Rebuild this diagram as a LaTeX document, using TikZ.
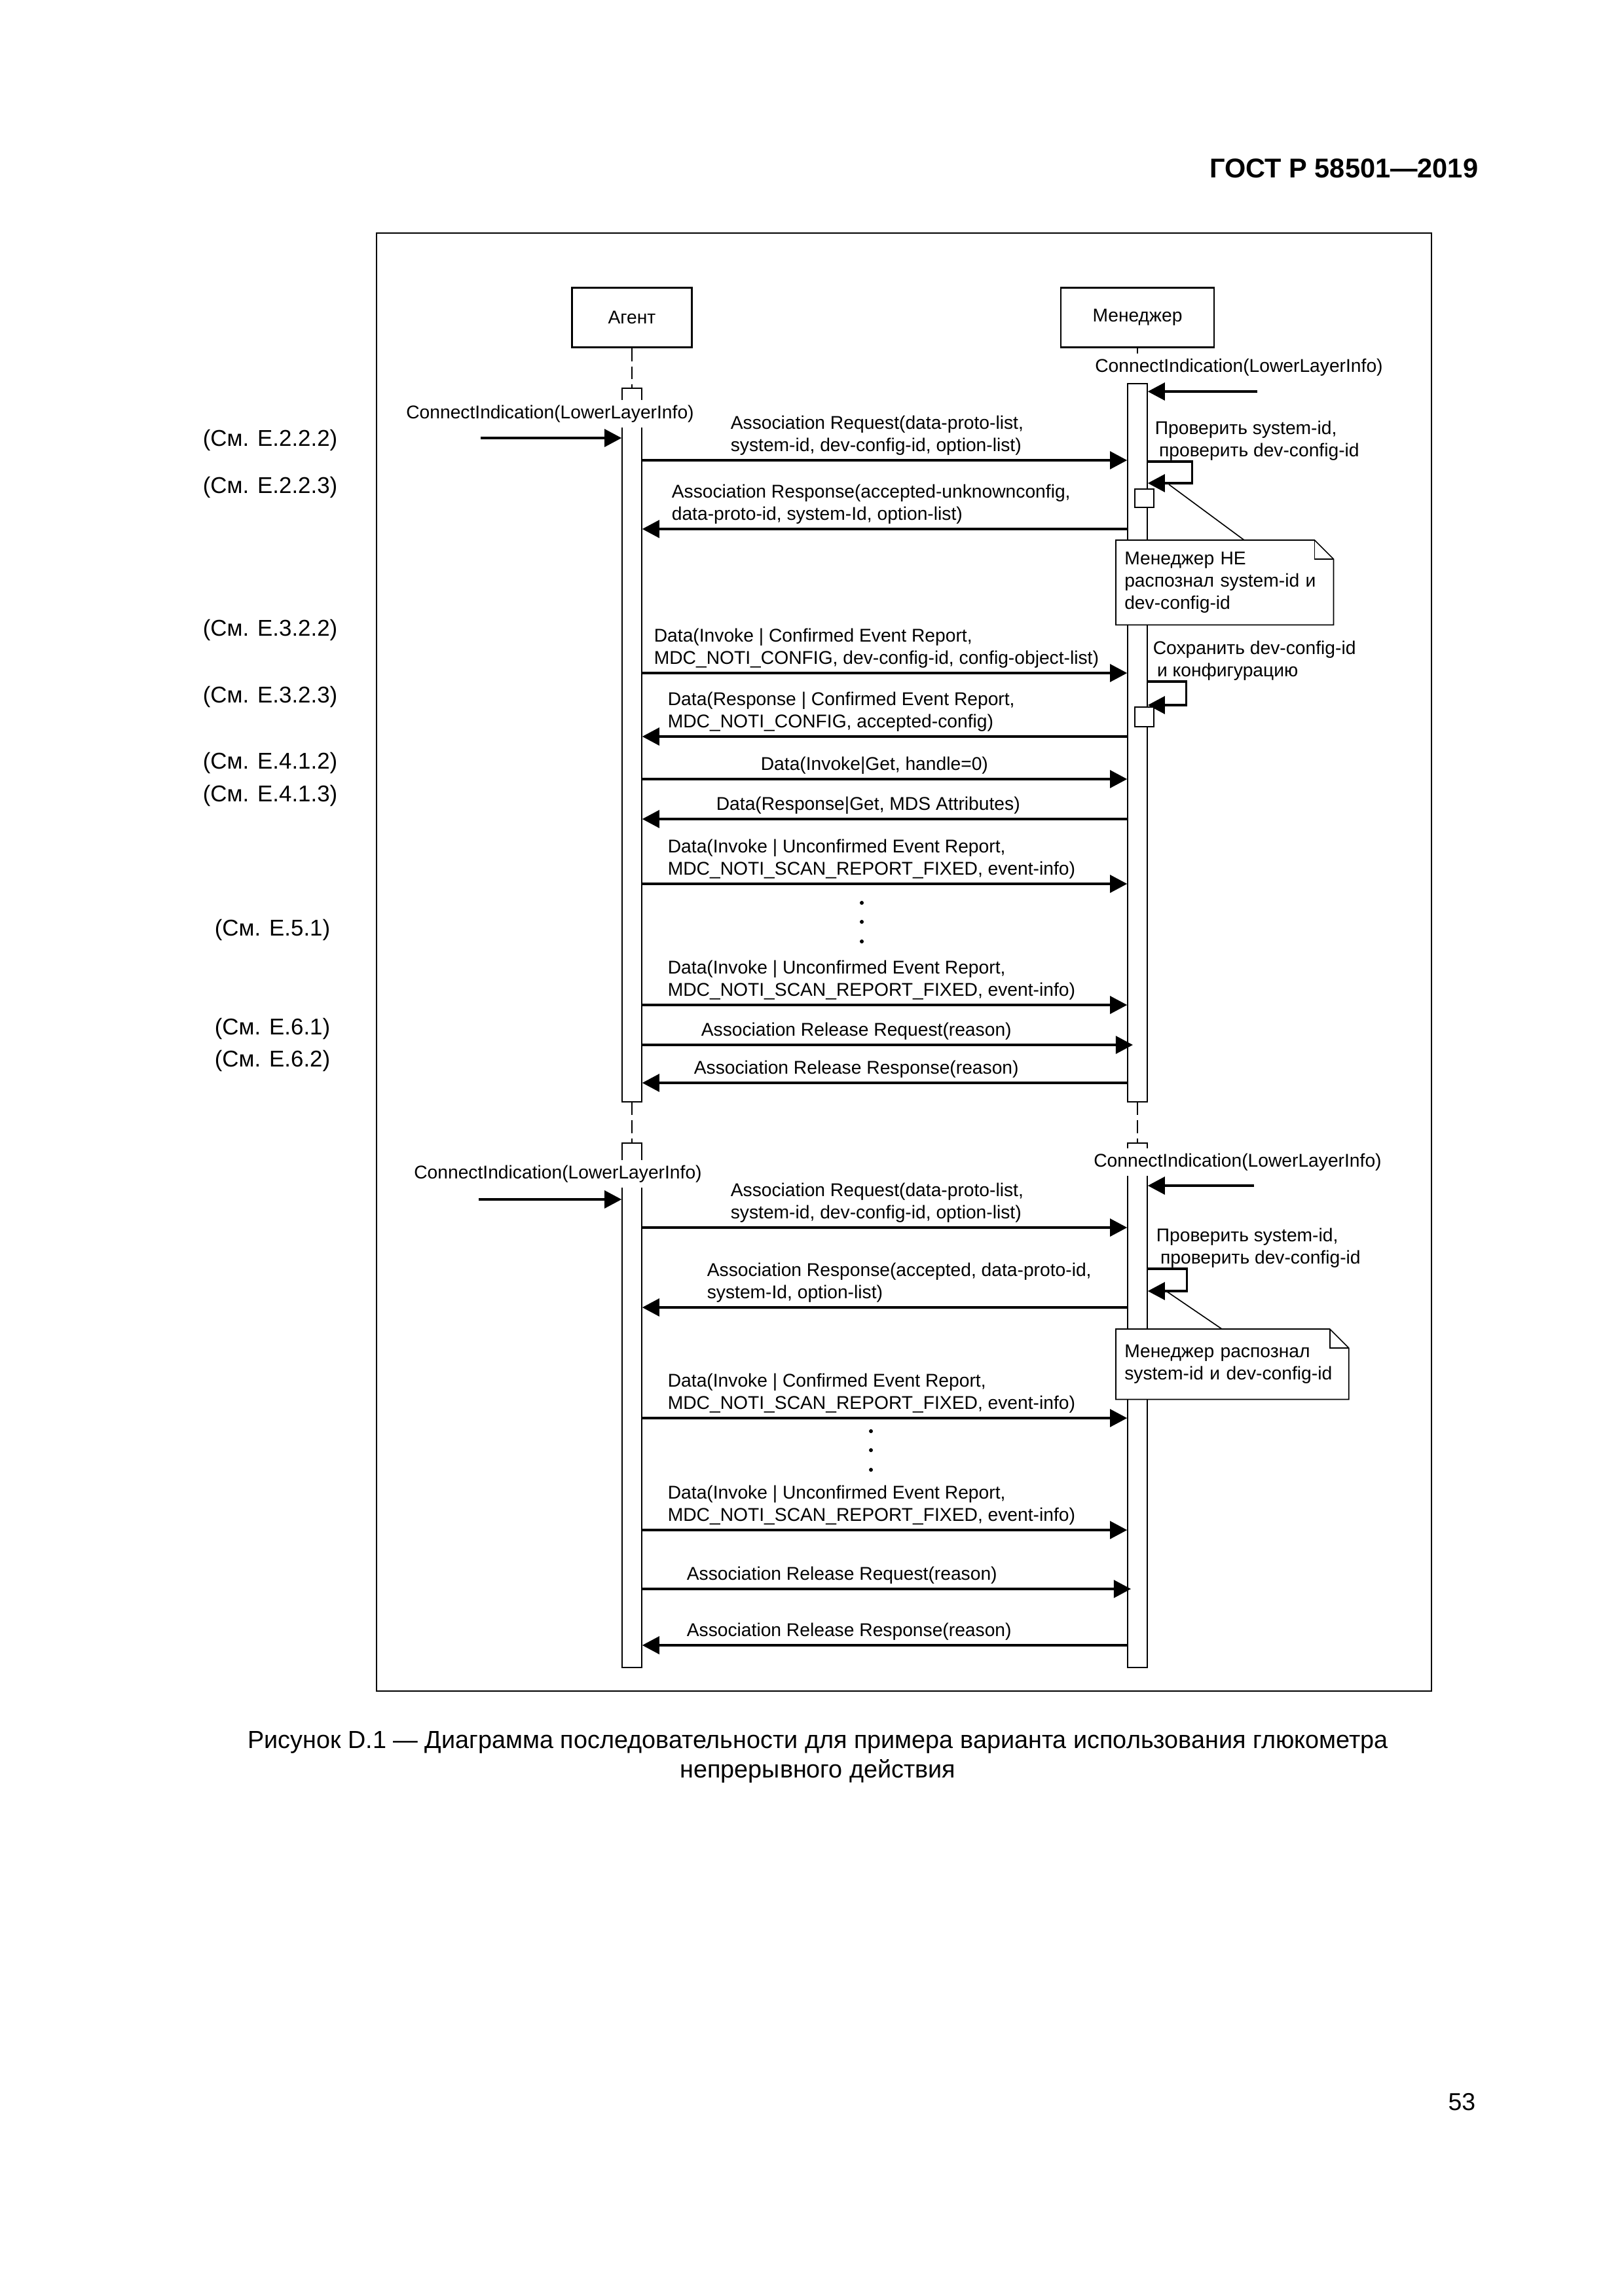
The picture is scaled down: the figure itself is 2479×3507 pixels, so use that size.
\documentclass[tikz,border=0pt]{standalone}
\usepackage{fontspec}
\setmainfont{Liberation Sans}
\usetikzlibrary{arrows.meta}

\newcommand{\diagfont}{\fontsize{6.8}{8.2}\selectfont}
\newcommand{\reffont}{\fontsize{8.4}{10.8}\selectfont}

\begin{document}
\begin{tikzpicture}[x=0.24089pt, y=-0.24089pt, >={Triangle[length=6.3pt,width=6.5pt]},
    actor/.style={draw, line width=0.6pt, minimum height=21.9pt, font=\diagfont},
    lifeline/.style={line width=0.4pt, dash pattern=on 4.8pt off 1.9pt},
    bar/.style={draw, fill=white, line width=0.4pt, inner sep=0pt, minimum width=7.2pt},
    msg/.style={->, line width=0.8pt},
    lbl/.style={font=\diagfont, align=left, inner sep=0pt, anchor=south west},
    conn/.style={fill=white, font=\diagfont, inner sep=2pt},
    note/.style={fill=white, font=\diagfont, align=left, inner xsep=3pt, inner ysep=0pt, anchor=north west},
    thinline/.style={line width=0.4pt},
    ref/.style={font=\reffont, anchor=west, inner sep=0pt}]

    \useasboundingbox (0,0) rectangle (2479,3507);

    % page
    \node[font=\bfseries\fontsize{10}{12}\selectfont, anchor=east, inner sep=0pt] (gost) at (2258,257) {ГОСТ Р 58501—2019};
    \draw[line width=0.7pt] (575,356) rectangle (2186,2583);
    \node[font=\fontsize{9.1}{10.8}\selectfont, align=center, inner sep=0pt] (cap) at (1249,2684)
        {Рисунок D.1 — Диаграмма последовательности для примера варианта использования глюкометра\\непрерывного действия};
    \node[font=\fontsize{9}{10.8}\selectfont, anchor=east, inner sep=0pt] (pg) at (2254,3211) {53};

    % references
    \foreach \r/\x/\y [count=\i] in {2.2.2/309/672, 2.2.3/309/744, 3.2.2/309/962, 3.2.3/309/1064,
        4.1.2/309/1165, 4.1.3/309/1215, 5.1/327/1420, 6.1/327/1571, 6.2/327/1620}
        \node[ref] (ref\i) at (\x,\y) {(См. Е.\r)};

    % actors
    \node[actor, minimum width=44.1pt] (agent) at (965,485) {Агент};
    \node[actor, minimum width=56.4pt] (mgr) at (1737,485) {Менеджер};

    % lifelines
    \draw[lifeline] (agent.south) -- (965,593);
    \draw[lifeline] (mgr.south) -- (1737,586);
    \draw[lifeline] (965,1683) -- (965,1746);
    \draw[lifeline] (1737,1683) -- (1737,1746);

    % activations
    \node[bar, minimum height=262.6pt] (abar1) at (965,1138) {};
    \node[bar, minimum height=264.3pt] (mbar1) at (1737,1134.5) {};
    \node[bar, minimum height=193pt] (abar2) at (965,2146.5) {};
    \node[bar, minimum height=193pt] (mbar2) at (1737,2146.5) {};

    % first connection
    \coordinate (ain1) at (734,669);
    \coordinate (min1) at (1920,598);
    \node[conn] (aci1) at (840,632) {ConnectIndication(LowerLayerInfo)};
    \node[conn] (mci1) at (1892,561) {ConnectIndication(LowerLayerInfo)};
    \draw[msg] (ain1) -- (abar1.west |- ain1);
    \draw[msg] (min1) -- (mbar1.east |- min1);

    \draw[msg] (abar1.east |- 0,703) -- (mbar1.west |- 0,703);
    \node[lbl] (t1) at (1115,696) {Association Request(data-proto-list,\\system-id, dev-config-id, option-list)};
    \draw[msg] (mbar1.east |- 0,705) -- ++(68,0) |- (mbar1.east |- 0,738);
    \node[lbl] (t2) at (1763,704) {Проверить system-id,\\\hspace*{1.5pt}проверить dev-config-id};
    \node[bar, minimum width=7pt, minimum height=6.8pt] (act1) at (1747.5,761) {};
    \draw[msg] (mbar1.west |- 0,808) -- (abar1.east |- 0,808);
    \node[lbl] (t3) at (1025,801) {Association Response(accepted-unknownconfig,\\data-proto-id, system-Id, option-list)};

    \coordinate (c1) at (1785,740);
    \draw[thinline] (1900,825) -- (c1);
    \node[note, text width=73.7pt, minimum height=30.8pt] (n1) at (1704,825) {Менеджер НЕ\\распознал system-id и\\dev-config-id};
    \draw[thinline] (n1.north west) -- ([xshift=-7pt]n1.north east) -- ([yshift=-7pt]n1.north east) -- (n1.south east) -- (n1.south west) -- cycle;
    \draw[thinline] ([xshift=-7pt]n1.north east) |- ([yshift=-7pt]n1.north east);

    % configuration
    \draw[msg] (abar1.east |- 0,1028) -- (mbar1.west |- 0,1028);
    \node[lbl] (t4) at (998,1021) {Data(Invoke | Confirmed Event Report,\\MDC\_NOTI\_CONFIG, dev-config-id, config-object-list)};
    \draw[msg] (mbar1.east |- 0,1041) -- ++(59,0) |- (mbar1.east |- 0,1077);
    \node[lbl] (t5) at (1760,1040) {Сохранить dev-config-id\\\hspace*{1.5pt}и конфигурацию};
    \node[bar, minimum width=7pt, minimum height=7.2pt] (act2) at (1747.5,1095) {};
    \draw[msg] (mbar1.west |- 0,1125) -- (abar1.east |- 0,1125);
    \node[lbl] (t6) at (1019,1118) {Data(Response | Confirmed Event Report,\\MDC\_NOTI\_CONFIG, accepted-config)};

    % get MDS
    \draw[msg] (abar1.east |- 0,1190) -- (mbar1.west |- 0,1190);
    \node[lbl] (t7) at (1161,1183) {Data(Invoke|Get, handle=0)};
    \draw[msg] (mbar1.west |- 0,1251) -- (abar1.east |- 0,1251);
    \node[lbl] (t8) at (1093,1244) {Data(Response|Get, MDS Attributes)};

    % measurements
    \draw[msg] (abar1.east |- 0,1350) -- (mbar1.west |- 0,1350);
    \node[lbl] (t9) at (1019,1343) {Data(Invoke | Unconfirmed Event Report,\\MDC\_NOTI\_SCAN\_REPORT\_FIXED, event-info)};
    \foreach \y in {1379,1408,1438}
        \fill (1316,\y) circle (3);
    \draw[msg] (abar1.east |- 0,1535) -- (mbar1.west |- 0,1535);
    \node[lbl] (t10) at (1019,1528) {Data(Invoke | Unconfirmed Event Report,\\MDC\_NOTI\_SCAN\_REPORT\_FIXED, event-info)};

    % release
    \draw[msg] (abar1.east |- 0,1596) -- (1730,1596);
    \node[lbl] (t11) at (1070,1589) {Association Release Request(reason)};
    \draw[msg] (mbar1.west |- 0,1654) -- (abar1.east |- 0,1654);
    \node[lbl] (t12) at (1059,1647) {Association Release Response(reason)};

    % second connection
    \coordinate (ain2) at (731,1832);
    \coordinate (min2) at (1915,1811);
    \node[conn] (aci2) at (852,1793) {ConnectIndication(LowerLayerInfo)};
    \node[conn] (mci2) at (1890,1775) {ConnectIndication(LowerLayerInfo)};
    \draw[msg] (ain2) -- (abar2.west |- ain2);
    \draw[msg] (min2) -- (mbar2.east |- min2);

    \draw[msg] (abar2.east |- 0,1875) -- (mbar2.west |- 0,1875);
    \node[lbl] (t13) at (1115,1868) {Association Request(data-proto-list,\\system-id, dev-config-id, option-list)};
    \draw[msg] (mbar2.east |- 0,1938) -- ++(60,0) |- (mbar2.east |- 0,1972);
    \node[lbl] (t14) at (1765,1937) {Проверить system-id,\\\hspace*{1.5pt}проверить dev-config-id};
    \draw[msg] (mbar2.west |- 0,1997) -- (abar2.east |- 0,1997);
    \node[lbl] (t15) at (1079,1990) {Association Response(accepted, data-proto-id,\\system-Id, option-list)};

    \coordinate (c2) at (1772,1966);
    \draw[thinline] (1866,2030) -- (c2);
    \node[note, text width=79.3pt, minimum height=25.5pt] (n2) at (1704,2030) {Менеджер распознал\\system-id и dev-config-id};
    \draw[thinline] (n2.north west) -- ([xshift=-7pt]n2.north east) -- ([yshift=-7pt]n2.north east) -- (n2.south east) -- (n2.south west) -- cycle;
    \draw[thinline] ([xshift=-7pt]n2.north east) |- ([yshift=-7pt]n2.north east);

    \draw[msg] (abar2.east |- 0,2166) -- (mbar2.west |- 0,2166);
    \node[lbl] (t16) at (1019,2159) {Data(Invoke | Confirmed Event Report,\\MDC\_NOTI\_SCAN\_REPORT\_FIXED, event-info)};
    \foreach \y in {2186,2215,2245}
        \fill (1330,\y) circle (3);
    \draw[msg] (abar2.east |- 0,2337) -- (mbar2.west |- 0,2337);
    \node[lbl] (t17) at (1019,2330) {Data(Invoke | Unconfirmed Event Report,\\MDC\_NOTI\_SCAN\_REPORT\_FIXED, event-info)};
    \draw[msg] (abar2.east |- 0,2427) -- (1727,2427);
    \node[lbl] (t18) at (1048,2420) {Association Release Request(reason)};
    \draw[msg] (mbar2.west |- 0,2513) -- (abar2.east |- 0,2513);
    \node[lbl] (t19) at (1048,2506) {Association Release Response(reason)};
\end{tikzpicture}
\end{document}
